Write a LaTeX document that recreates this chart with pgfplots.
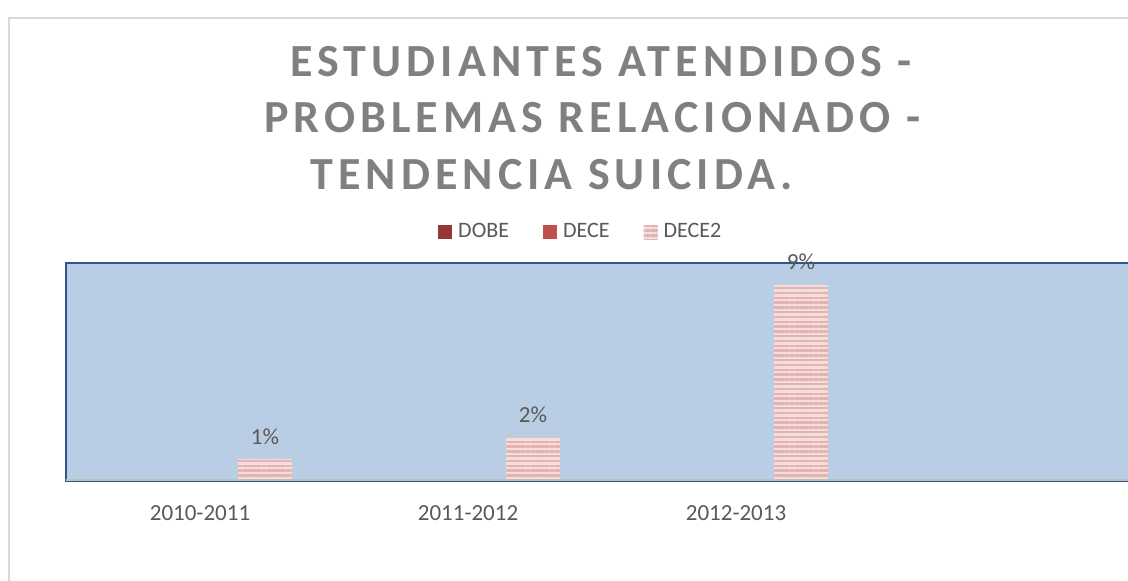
\documentclass[border=0pt]{standalone}
\usepackage{fontspec}
\setmainfont{Carlito}
\newfontfamily\titlefont[LetterSpace=11]{Carlito}
\usepackage{pgfplots}
\pgfplotsset{compat=1.18}
\usetikzlibrary{patterns.meta}
\definecolor{plotbg}{RGB}{185,205,228}
\definecolor{borderblue}{RGB}{47,85,140}
\definecolor{axisgray}{RGB}{191,191,191}
\definecolor{chartborder}{RGB}{217,217,217}
\definecolor{titlegray}{RGB}{128,128,128}
\definecolor{textgray}{RGB}{89,89,89}
\definecolor{dobe}{RGB}{149,55,53}
\definecolor{dece}{RGB}{192,80,77}
\definecolor{decelight}{RGB}{244,222,221}
\definecolor{dece2}{RGB}{228,178,177}
\begin{document}
\begin{tikzpicture}[x=0.5pt,y=0.5pt]
\useasboundingbox (0,0) rectangle (1128,581);
\clip (0,0) rectangle (1128,581);
\fill[white] (0,0) rectangle (1128,581);
\draw[chartborder, line width=1pt] (9,563) rectangle (1160,-40);
\node[anchor=base west, inner sep=0, text=titlegray, font=\titlefont\bfseries\fontsize{23}{27}\selectfont] at (290,504) {ESTUDIANTES ATENDIDOS -};
\node[anchor=base west, inner sep=0, text=titlegray, font=\titlefont\bfseries\fontsize{23}{27}\selectfont] at (264,448) {PROBLEMAS RELACIONADO -};
\node[anchor=base west, inner sep=0, text=titlegray, font=\titlefont\bfseries\fontsize{23}{27}\selectfont] at (310,391) {TENDENCIA SUICIDA.};
\begin{axis}[
  at={(33pt,50pt)}, anchor=south west,
  scale only axis, width=536pt, height=109pt,
  xmin=-0.5, xmax=3.5, ymin=0, ymax=10,
  axis background/.style={fill=plotbg},
  axis line style={draw=borderblue, line width=1pt},
  ytick=\empty,
  xtick={0,1,2,3},
  xticklabels={2010-2011,2011-2012,2012-2013,{}},
  major tick length=0pt,
  xticklabel style={anchor=base, yshift=-20pt, font=\fontsize{11.5}{13}\selectfont, text=textgray},
  /pgf/number format/assume math mode=true,
  ybar, bar width=27pt,
  legend columns=3,
  legend style={at={(axis description cs:0.482,1.142)}, anchor=center, draw=none, fill=none,
    font=\fontsize{11}{13}\selectfont, text=textgray,
    nodes={inner xsep=3pt},
    /tikz/every even column/.append style={column sep=14pt}},
  legend image code/.code={\fill[#1] (0pt,-3.5pt) rectangle (7pt,3.5pt);},
  every node near coord/.append style={font=\fontsize{11.5}{13}\selectfont, text=textgray, anchor=base, yshift=7.5pt},
]
\addplot[draw=none, fill=dobe, bar shift=-32.5pt] coordinates {(0,0) (1,0) (2,0)};
\addlegendentry{DOBE}
\addplot[draw=none, fill=dece, bar shift=0pt] coordinates {(0,0) (1,0) (2,0)};
\addlegendentry{DECE}
\addplot[draw=none, fill=decelight, postaction={pattern={Lines[angle=0,distance=2.4pt,line width=1.2pt]}, pattern color=dece2}, bar shift=32.5pt,
  nodes near coords={\pgfmathprintnumber{\pgfplotspointmeta}\%}] coordinates {(0,1) (1,2) (2,9)};
\addlegendentry{DECE2}
\draw[axisgray, line width=1.5pt] (rel axis cs:0,0) -- (rel axis cs:1,0);
\end{axis}
\end{tikzpicture}
\end{document}
